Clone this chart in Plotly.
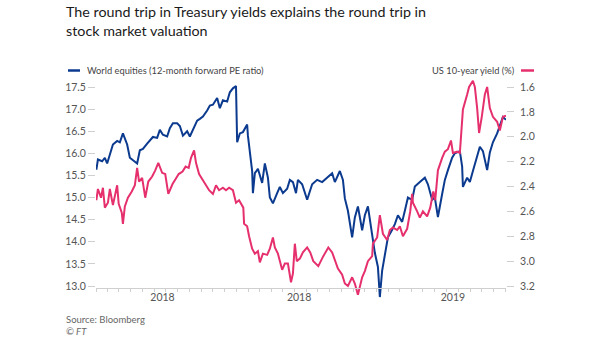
import plotly.graph_objects as go

# ---------------- data ----------------
pe_dates = [
    "2017-01-02", "2017-01-06", "2017-01-17", "2017-01-24", "2017-01-30", "2017-02-06", "2017-02-14",
    "2017-02-25", "2017-03-04", "2017-03-12", "2017-03-23", "2017-03-30", "2017-04-07", "2017-04-18",
    "2017-04-25", "2017-05-03", "2017-05-14", "2017-05-21", "2017-05-29", "2017-06-09", "2017-06-16",
    "2017-06-24", "2017-07-05", "2017-07-12", "2017-07-20", "2017-07-31", "2017-08-07", "2017-08-15",
    "2017-08-26", "2017-09-02", "2017-09-10", "2017-09-21", "2017-09-28", "2017-10-06", "2017-10-17",
    "2017-10-24", "2017-11-01", "2017-11-12", "2017-11-19", "2017-11-27", "2017-12-08", "2017-12-15",
    "2017-12-23", "2017-12-31", "2018-01-03", "2018-01-10", "2018-01-18", "2018-01-29", "2018-01-31",
    "2018-02-11", "2018-02-13", "2018-02-18", "2018-02-26", "2018-03-09", "2018-03-16", "2018-03-24",
    "2018-03-29", "2018-04-06", "2018-04-17", "2018-04-24", "2018-05-02", "2018-05-13", "2018-05-20",
    "2018-05-28", "2018-06-05", "2018-06-10", "2018-06-21", "2018-07-04", "2018-07-17", "2018-07-30",
    "2018-08-12", "2018-08-25", "2018-09-07", "2018-09-14", "2018-09-27", "2018-10-05", "2018-10-10",
    "2018-10-18", "2018-10-29", "2018-11-05", "2018-11-13", "2018-11-24", "2018-12-01", "2018-12-09",
    "2018-12-20", "2018-12-27", "2019-01-04", "2019-01-09", "2019-01-15", "2019-01-22", "2019-01-30",
    "2019-02-10", "2019-02-17", "2019-02-25", "2019-03-08", "2019-03-15", "2019-03-23", "2019-04-03",
    "2019-04-10", "2019-04-23", "2019-05-06", "2019-05-14", "2019-05-25", "2019-06-01", "2019-06-09",
    "2019-06-20", "2019-06-27", "2019-07-05", "2019-07-16", "2019-07-23", "2019-08-05", "2019-08-11",
    "2019-08-13", "2019-08-24", "2019-08-31", "2019-09-08", "2019-09-19", "2019-09-26", "2019-10-04",
    "2019-10-15", "2019-10-22", "2019-10-30", "2019-11-10", "2019-11-17", "2019-11-25", "2019-12-03",
]
pe_values = [
    15.63, 15.86, 15.82, 15.90, 15.77, 15.95, 16.20,
    16.28, 16.25, 16.45, 16.20, 15.90, 15.84, 15.77,
    16.07, 16.10, 16.22, 16.28, 16.37, 16.35, 16.53,
    16.42, 16.38, 16.57, 16.68, 16.68, 16.62, 16.40,
    16.50, 16.38, 16.55, 16.74, 16.78, 16.83, 16.97,
    17.08, 17.10, 17.25, 17.02, 17.20, 17.17, 17.38,
    17.47, 17.52, 16.25, 16.45, 16.48, 16.65, 16.40,
    15.60, 15.10, 15.55, 15.65, 15.33, 15.77, 15.45,
    15.00, 14.87, 15.10, 15.24, 15.10, 15.20, 15.40,
    15.35, 15.10, 15.40, 15.30, 14.95, 15.30, 15.40,
    15.35, 15.45, 15.55, 15.35, 15.60, 15.40, 14.98,
    14.70, 14.10, 14.55, 14.80, 14.26, 14.60, 14.80,
    14.10, 13.75, 13.43, 12.75, 13.35, 13.75, 14.10,
    14.27, 14.40, 14.60, 14.45, 14.70, 15.00, 14.95,
    15.25, 15.35, 15.45, 15.30, 14.95, 15.00, 14.56,
    15.08, 15.40, 15.62, 15.90, 16.00, 16.05, 15.70,
    15.24, 15.45, 15.35, 15.60, 15.95, 16.15, 16.05,
    15.62, 16.02, 16.25, 16.45, 16.64, 16.82, 16.76,
]

yield_dates = [
    "2017-01-02", "2017-01-06", "2017-01-14", "2017-01-19", "2017-01-24", "2017-02-01", "2017-02-06",
    "2017-02-14", "2017-02-25", "2017-03-01", "2017-03-09", "2017-03-12", "2017-03-17", "2017-03-25",
    "2017-04-04", "2017-04-12", "2017-04-18", "2017-04-23", "2017-05-01", "2017-05-09", "2017-05-17",
    "2017-05-27", "2017-06-04", "2017-06-12", "2017-06-22", "2017-06-30", "2017-07-08", "2017-07-19",
    "2017-07-27", "2017-08-04", "2017-08-14", "2017-08-22", "2017-08-30", "2017-09-05", "2017-09-13",
    "2017-09-18", "2017-09-26", "2017-10-06", "2017-10-14", "2017-10-22", "2017-11-01", "2017-11-09",
    "2017-11-17", "2017-11-27", "2017-12-05", "2017-12-13", "2017-12-23", "2017-12-31", "2018-01-08",
    "2018-01-19", "2018-01-21", "2018-01-29", "2018-02-03", "2018-02-11", "2018-02-18", "2018-02-26",
    "2018-03-03", "2018-03-11", "2018-03-22", "2018-03-29", "2018-04-06", "2018-04-11", "2018-04-19",
    "2018-04-30", "2018-05-07", "2018-05-15", "2018-05-23", "2018-05-28", "2018-06-02", "2018-06-07",
    "2018-06-15", "2018-06-23", "2018-07-04", "2018-07-12", "2018-07-20", "2018-08-02", "2018-08-15",
    "2018-08-28", "2018-09-07", "2018-09-14", "2018-09-22", "2018-10-03", "2018-10-10", "2018-10-18",
    "2018-10-29", "2018-11-05", "2018-11-13", "2018-11-24", "2018-12-01", "2018-12-09", "2018-12-20",
    "2018-12-22", "2019-01-02", "2019-01-09", "2019-01-17", "2019-01-28", "2019-02-04", "2019-02-12",
    "2019-02-23", "2019-03-02", "2019-03-10", "2019-03-21", "2019-03-29", "2019-04-03", "2019-04-05",
    "2019-04-16", "2019-04-23", "2019-05-01", "2019-05-12", "2019-05-20", "2019-05-28", "2019-06-02",
    "2019-06-09", "2019-06-20", "2019-06-27", "2019-07-05", "2019-07-13", "2019-07-18", "2019-07-29",
    "2019-08-05", "2019-08-11", "2019-08-13", "2019-08-24", "2019-08-29", "2019-09-08", "2019-09-13",
    "2019-09-19", "2019-09-24", "2019-10-01", "2019-10-09", "2019-10-15", "2019-10-22", "2019-10-30",
    "2019-11-10", "2019-11-17", "2019-11-25", "2019-12-03",
]
yield_values = [
    2.51, 2.42, 2.49, 2.41, 2.57, 2.53, 2.42,
    2.55, 2.39, 2.54, 2.61, 2.70, 2.56, 2.49,
    2.44, 2.39, 2.25, 2.36, 2.33, 2.49, 2.36,
    2.32, 2.27, 2.21, 2.29, 2.30, 2.46, 2.38,
    2.34, 2.30, 2.28, 2.24, 2.25, 2.17, 2.11,
    2.21, 2.30, 2.35, 2.38, 2.43, 2.46, 2.39,
    2.43, 2.41, 2.43, 2.41, 2.43, 2.53, 2.51,
    2.57, 2.70, 2.72, 2.80, 2.90, 2.94, 2.92,
    3.01, 2.94, 2.95, 2.90, 2.81, 2.89, 2.94,
    3.07, 3.02, 3.02, 3.17, 3.10, 2.86, 3.00,
    2.98, 2.93, 2.89, 2.93, 3.00, 3.04, 2.96,
    2.89, 2.93, 3.00, 3.06, 3.11, 3.18, 3.20,
    3.13, 3.18, 3.27, 3.13, 3.08, 3.00, 2.96,
    2.86, 2.81, 2.63, 2.78, 2.83, 2.75, 2.73,
    2.75, 2.72, 2.80, 2.74, 2.60, 2.46, 2.53,
    2.60, 2.65, 2.60, 2.64, 2.57, 2.44, 2.51,
    2.27, 2.17, 2.12, 2.10, 2.03, 2.13, 2.12,
    2.13, 1.82, 1.78, 1.66, 1.60, 1.55, 1.60,
    1.77, 1.97, 1.84, 1.66, 1.60, 1.77, 1.84,
    1.88, 1.95, 1.84, 1.83,
]

left_ticks = [13.0, 13.5, 14.0, 14.5, 15.0, 15.5, 16.0, 16.5, 17.0, 17.5]
right_ticks = [1.6, 1.8, 2.0, 2.2, 2.4, 2.6, 2.8, 3.0, 3.2]
x_label_dates = ["2017-06-23", "2018-06-13", "2019-07-18"]
x_label_text = ["2018", "2018", "2019"]
year_boundaries = ["2018-01-01", "2019-01-01"]

title_lines = ["The round trip in Treasury yields explains the round trip in",
               "stock market valuation"]
pe_name = "World equities (12-month forward PE ratio)"
yield_name = "US 10-year yield (%)"
source_text = "Source: Bloomberg"
credit_text = "© FT"

# ---------------- layout geometry ----------------
W, H = 605, 341
L, R, T, B = 96, 99, 76, 41
PW, PH = W - L - R, H - T - B

def px(x):
    return (x - L) / PW

def py(y):
    return (H - B - y) / PH

# y ranges chosen so 17.5 / 1.6 sit at pixel 87 and 13.0 / 3.2 at pixel 286
per_unit_left = (286 - 87) / 4.5
per_unit_right = (286 - 87) / 1.6
left_range = [13.0 - (H - B - 286) / per_unit_left, 17.5 + (87 - T) / per_unit_left]
right_range = [3.2 + (H - B - 286) / per_unit_right, 1.6 - (87 - T) / per_unit_right]
x_range = ["2017-01-01", "2019-12-03"]

BLUE = "#0b3a8f"
PINK = "#e6306e"
FONT = "Lato"
GRID = "#cfcfcf"

fig = go.Figure()
fig.add_trace(go.Scatter(x=pe_dates, y=pe_values, mode="lines", name=pe_name,
                         line=dict(color=BLUE, width=2), yaxis="y"))
fig.add_trace(go.Scatter(x=yield_dates, y=yield_values, mode="lines", name=yield_name,
                         line=dict(color=PINK, width=2), yaxis="y2"))

axis_pos = py(287.5)

fig.update_layout(
    width=W, height=H,
    margin=dict(l=L, r=R, t=T, b=B, pad=0),
    paper_bgcolor="white", plot_bgcolor="white",
    showlegend=False,
    font=dict(family=FONT, color="#555555", size=10),
    xaxis=dict(
        type="date", range=x_range, anchor="free", position=axis_pos,
        showgrid=False, zeroline=False,
        showline=True, linecolor=GRID, linewidth=1,
        tickvals=x_label_dates, ticktext=x_label_text, ticks="",
        tickfont=dict(size=10.5, color="#555555"),
        minor=dict(ticks="outside", dtick="M1", tick0="2017-01-01",
                   ticklen=3, tickcolor=GRID, tickwidth=1, showgrid=False),
    ),
    xaxis2=dict(
        type="date", range=x_range, overlaying="x", anchor="free", position=axis_pos,
        showgrid=False, zeroline=False, showline=False,
        tickvals=year_boundaries, ticks="outside", ticklen=6,
        tickcolor=GRID, tickwidth=1, showticklabels=False,
    ),
    yaxis=dict(
        range=left_range, tickvals=left_ticks,
        ticktext=[f"{v:.1f}" for v in left_ticks],
        showgrid=False, zeroline=False, showline=False,
        ticks="outside", ticklen=7, tickcolor=GRID, tickwidth=1,
        tickfont=dict(size=10.5, color="#555555"),
    ),
    yaxis2=dict(
        range=right_range, overlaying="y", side="right", anchor="x",
        tickvals=right_ticks, ticktext=[f"{v:.1f}" for v in right_ticks],
        showgrid=False, zeroline=False, showline=False,
        ticks="outside", ticklen=7, tickcolor=GRID, tickwidth=1,
        ticklabelstandoff=4,
        tickfont=dict(size=10.5, color="#555555"),
    ),
)

annotations = [
    dict(text=title_lines[0], x=px(64), y=py(12), xanchor="left", yanchor="middle",
         font=dict(size=14.3, color="#1a1a1a", family=FONT)),
    dict(text=title_lines[1], x=px(64), y=py(30.5), xanchor="left", yanchor="middle",
         font=dict(size=14.3, color="#1a1a1a", family=FONT)),
    dict(text=pe_name, x=px(85), y=py(70.5), xanchor="left", yanchor="middle",
         font=dict(size=9.3, color="#444444", family=FONT)),
    dict(text=yield_name, x=px(517), y=py(70.5), xanchor="right", yanchor="middle",
         font=dict(size=9.3, color="#444444", family=FONT)),
    dict(text=source_text, x=px(64), y=py(319), xanchor="left", yanchor="middle",
         font=dict(size=9.5, color="#666666", family=FONT)),
    dict(text="<i>" + credit_text + "</i>", x=px(64), y=py(331), xanchor="left", yanchor="middle",
         font=dict(size=9.5, color="#666666", family=FONT)),
]
for a in annotations:
    a.update(xref="paper", yref="paper", showarrow=False)
fig.update_layout(annotations=annotations)

fig.update_layout(shapes=[
    dict(type="line", xref="paper", yref="paper", x0=px(68), x1=px(80), y0=py(70.5), y1=py(70.5),
         line=dict(color=BLUE, width=2.5)),
    dict(type="line", xref="paper", yref="paper", x0=px(521), x1=px(534), y0=py(70.5), y1=py(70.5),
         line=dict(color=PINK, width=2.5)),
])

fig.write_html("out.html")
